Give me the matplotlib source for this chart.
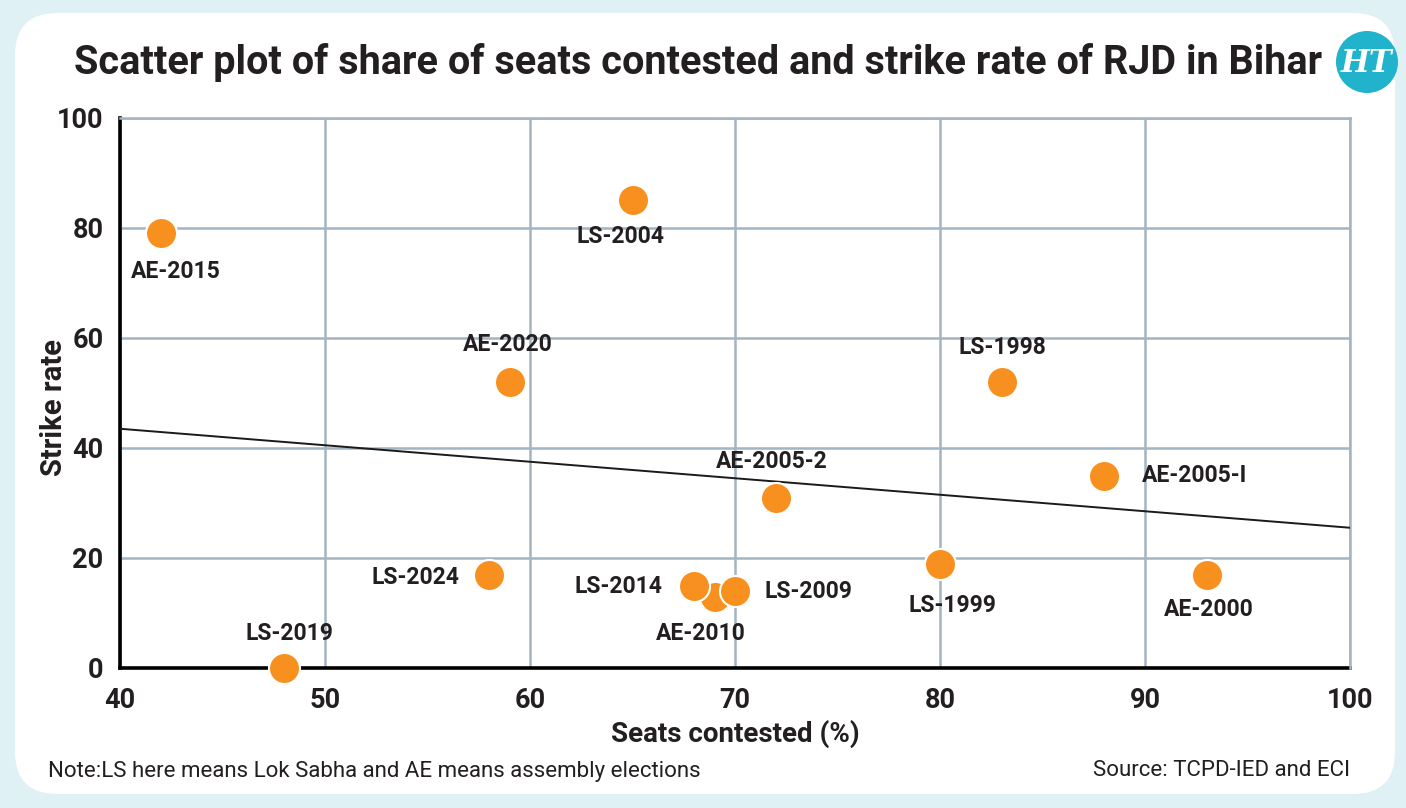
import matplotlib.pyplot as plt
from matplotlib.patches import FancyBboxPatch, Ellipse
import numpy as np

# data
labels = ["AE-2015", "LS-2004", "AE-2020", "LS-1998", "AE-2005-I", "AE-2005-2",
          "LS-2024", "AE-2010", "LS-2014", "LS-2009", "LS-1999", "AE-2000", "LS-2019"]
seats = [42, 65, 59, 83, 88, 72, 58, 69, 68, 70, 80, 93, 48]
strike = [79, 85, 52, 52, 35, 31, 17, 13, 15, 14, 19, 17, 0]

# trend line as drawn in the chart
trend_x = [40, 100]
trend_y = [43.5, 25.5]

x_ticks = [40, 50, 60, 70, 80, 90, 100]
y_ticks = [0, 20, 40, 60, 80, 100]

# label placement (offset in points, ha, va)
offsets = {
    "AE-2015": ((11, -27), "center", "center"),
    "LS-2004": ((-9, -26), "center", "center"),
    "AE-2020": ((-1, 27), "center", "center"),
    "LS-1998": ((1, 25), "center", "center"),
    "AE-2005-I": ((27, 0), "left", "center"),
    "AE-2005-2": ((-3, 26), "center", "center"),
    "LS-2024": ((-21, -2), "right", "center"),
    "AE-2010": ((-10, -27), "center", "center"),
    "LS-2014": ((-23, -1), "right", "center"),
    "LS-2009": ((21, 0), "left", "center"),
    "LS-1999": ((9, -30), "center", "center"),
    "AE-2000": ((2, -25), "center", "center"),
    "LS-2019": ((4, 25), "center", "center"),
}

FONT = ["Roboto", "DejaVu Sans"]
plt.rcParams['font.family'] = FONT
TXT = "#231f20"
ORANGE = "#f7901e"
GRID = "#a3b4c2"

fig = plt.figure(figsize=(14.06, 8.08), dpi=100)
fig.patch.set_facecolor("#dff1f4")

# white rounded card
W, H = 1406, 808
card = FancyBboxPatch((15 / W, 14 / H), 1380 / W, 781 / H,
                      boxstyle="round,pad=0,rounding_size=0.03",
                      transform=fig.transFigure, facecolor="white",
                      edgecolor="none", zorder=-5, mutation_aspect=W / H)
fig.patches.append(card)

ax = fig.add_axes([120 / W, 140 / H, 1230 / W, 550 / H])
ax.set_facecolor("none")

ax.scatter(seats, strike, s=500, color=ORANGE, edgecolor="white",
           linewidth=1.5, zorder=4, clip_on=False)
ax.plot(trend_x, trend_y, color="#1a1a1a", lw=1.4, zorder=3)

for lab, xv, yv in zip(labels, seats, strike):
    off, ha, va = offsets[lab]
    ax.annotate(lab, (xv, yv), xytext=off, textcoords="offset points",
                ha=ha, va=va, fontsize=16.5, fontweight="bold", color=TXT,
                zorder=5)

ax.set_xlim(40, 100)
ax.set_ylim(0, 100)
ax.set_xticks(x_ticks)
ax.set_yticks(y_ticks)
ax.grid(True, color=GRID, lw=1.8, zorder=1)
ax.set_axisbelow(True)
ax.tick_params(length=0, labelsize=19.5, colors=TXT, pad=12)
ax.tick_params(axis="x", pad=14)
for t in ax.get_xticklabels() + ax.get_yticklabels():
    t.set_fontweight("bold")

for side in ["left", "bottom"]:
    ax.spines[side].set_color("black")
    ax.spines[side].set_linewidth(2.6)
    ax.spines[side].set_zorder(2)
for side in ["top", "right"]:
    ax.spines[side].set_color(GRID)
    ax.spines[side].set_linewidth(1.8)

ax.set_xlabel("Seats contested (%)", fontsize=20, fontweight="bold",
              color=TXT, labelpad=4)
fig.text(54 / W, 1 - 407 / H, "Strike rate", rotation=90, ha="center",
         va="center", fontsize=21, fontweight="bold", color=TXT)

fig.text(698 / W, 1 - 62 / H,
         "Scatter plot of share of seats contested and strike rate of RJD in Bihar",
         ha="center", va="center", fontsize=28.5, fontweight="bold", color=TXT)

# HT logo
fig.patches.append(Ellipse((1367 / W, 1 - 62 / H), 62 / W, 62 / H,
                           transform=fig.transFigure,
                           facecolor="#20b3cb", edgecolor="none"))
fig.text(1367 / W, 1 - 63 / H, "HT", ha="center", va="center", fontsize=22,
         fontweight="bold", style="italic", color="white",
         family=["DejaVu Serif"])

fig.text(48 / W, 1 - 771 / H,
         "Note:LS here means Lok Sabha and AE means assembly elections",
         ha="left", va="center", fontsize=16, color=TXT)
fig.text(1350 / W, 1 - 771 / H, "Source: TCPD-IED and ECI",
         ha="right", va="center", fontsize=16, color=TXT)

fig.savefig("out.png", dpi=100, facecolor=fig.get_facecolor())
